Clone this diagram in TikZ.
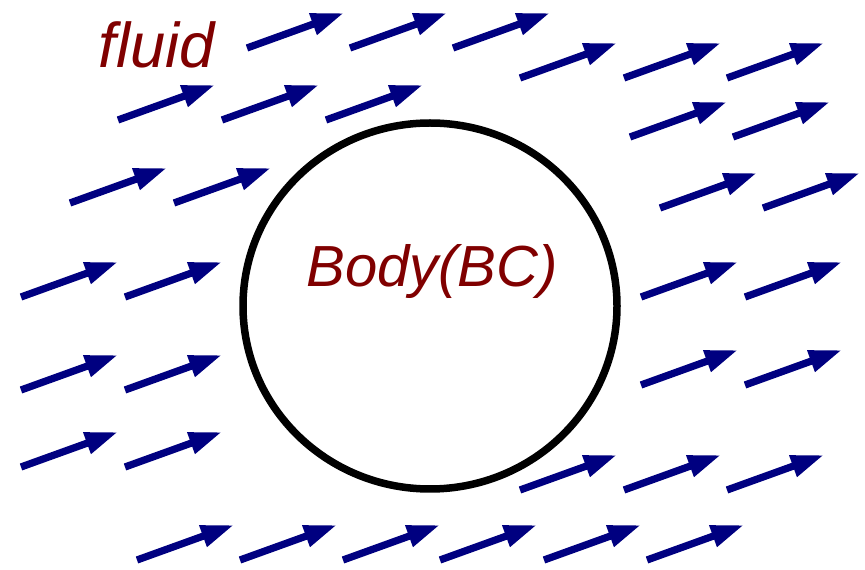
\documentclass[tikz,border=0pt]{standalone}
\usepackage{fontspec}
\setmainfont{Liberation Sans}
\usepackage{tikz}
\usetikzlibrary{arrows.meta,calc}
\definecolor{flowcol}{RGB}{0,0,128}
\definecolor{labcol}{RGB}{128,0,0}

\begin{document}
\begin{tikzpicture}[x=0.02cm, y=-0.02cm,
  flow/.style={-{Triangle[length=0.66cm, width=0.42cm]}, line width=0.145cm, draw=flowcol},
  lab/.style={text=labcol, font=\fontsize{33}{40}\selectfont\itshape, inner sep=0pt},
]
  \useasboundingbox (0,0) rectangle (865,570);

  % body
  \draw[line width=0.15cm] (430,306) ellipse [x radius=187, y radius=183];
  \node[lab] (body) at (432,272) {Body(BC)};
  \node[lab, font=\fontsize{36}{40}\selectfont\itshape] (fluid) at (157,45) {fluid};

  % flow field
  \foreach \x/\y [count=\i] in {247/48, 350/48, 453/48,
      520/78, 624/78, 727/78,
      118/120, 222/120, 326/120,
      630/137, 733/137,
      70/203, 174/203,
      660/208, 763/208,
      21/297, 125/297, 641/297, 745/297,
      21/390, 125/390, 641/385, 745/385,
      21/467, 125/467,
      520/490, 624/490, 727/490,
      137/560, 240/560, 343/560, 440/560, 544/560, 647/560} {
    \coordinate (t\i) at (\x,\y);
    \coordinate (h\i) at ($(t\i)+(97,-35)$);
    \draw[flow] (t\i) -- (h\i);
  }
\end{tikzpicture}
\end{document}
